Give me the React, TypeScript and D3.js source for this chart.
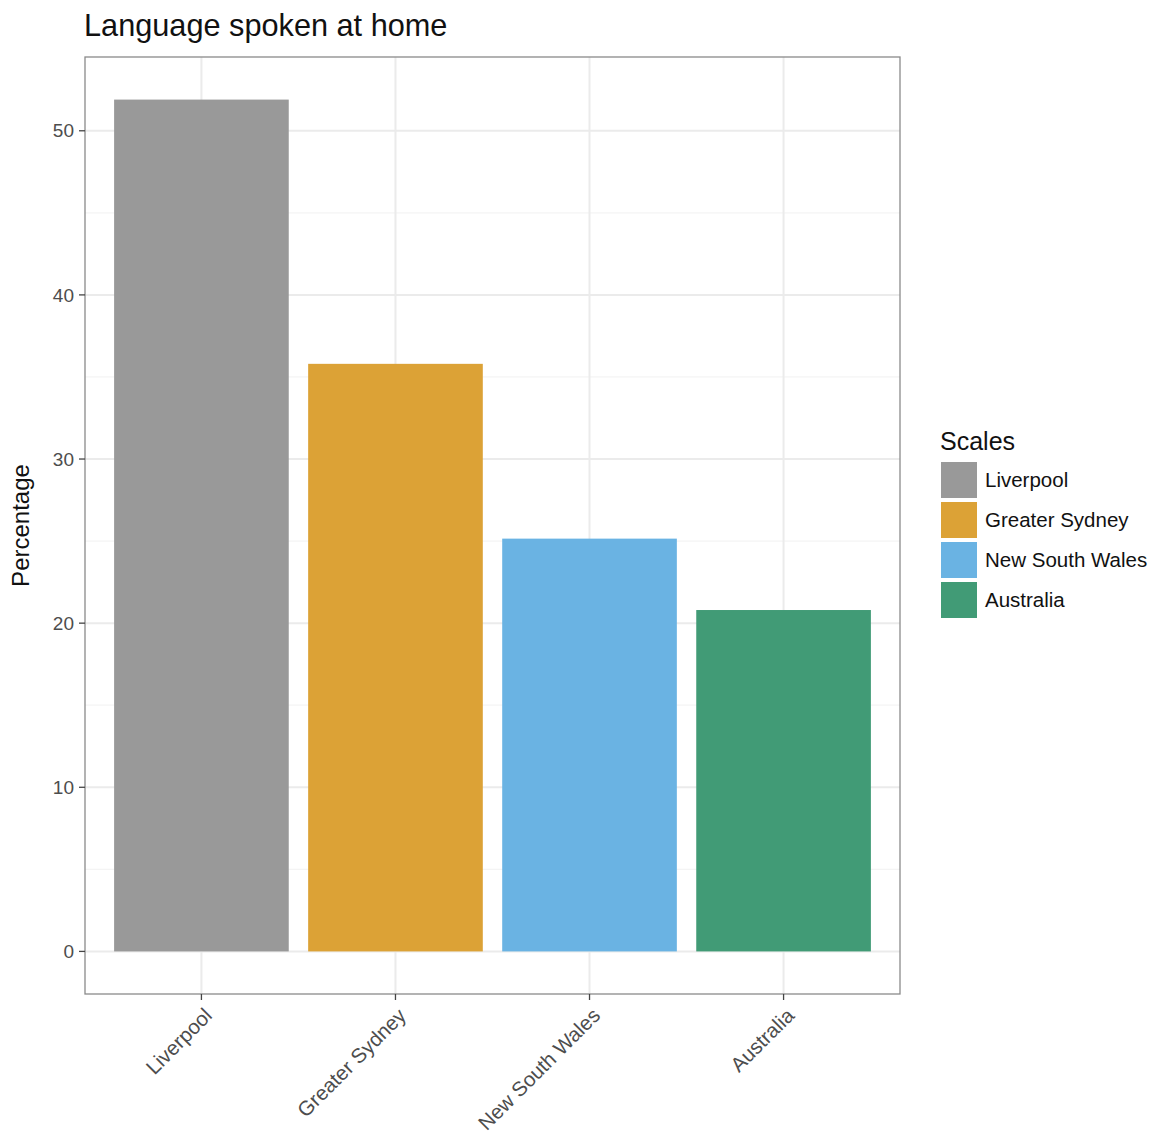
import React from "react";
import * as d3 from "d3";

const categories = ["Liverpool", "Greater Sydney", "New South Wales", "Australia"];
const values = [51.9, 35.8, 25.15, 20.8];
const colors = ["#999999", "#DCA236", "#6AB3E3", "#419B76"];
const yTicks = [0, 10, 20, 30, 40, 50];
const yMinor = [5, 15, 25, 35, 45];

const W = 1155, H = 1133;
const panel = { left: 85, right: 900, top: 57, bottom: 994 };
const FONT = "Liberation Sans, Arial, Helvetica, sans-serif";

export default function App() {
  const maxV = d3.max(values) as number;
  const y = d3.scaleLinear().domain([-maxV * 0.05, maxV * 1.05]).range([panel.bottom, panel.top]);
  const pw = panel.right - panel.left;
  const unit = pw / (categories.length + 0.2);
  const x = d3.scaleBand().domain(categories)
    .range([panel.left + unit * 0.1, panel.right - unit * 0.1])
    .paddingInner(0.1).paddingOuter(0.05);
  const cx = (c: string) => (x(c) as number) + x.bandwidth() / 2;

  return (
    <svg width={W} height={H} style={{ position: "absolute", left: 0, top: 0, background: "#fff" }} fontFamily={FONT}>
      <text x={84} y={36} fontSize={30.7} fill="#111">Language spoken at home</text>
      <rect x={panel.left} y={panel.top} width={pw} height={panel.bottom - panel.top} fill="#fff" />
      {yMinor.map(t => (
        <line key={"m" + t} x1={panel.left} x2={panel.right} y1={y(t)} y2={y(t)} stroke="#f4f4f4" strokeWidth={1.2} />
      ))}
      {yTicks.map(t => (
        <line key={"g" + t} x1={panel.left} x2={panel.right} y1={y(t)} y2={y(t)} stroke="#ebebeb" strokeWidth={2} />
      ))}
      {categories.map(c => (
        <line key={"gx" + c} x1={cx(c)} x2={cx(c)} y1={panel.top} y2={panel.bottom} stroke="#ebebeb" strokeWidth={2} />
      ))}
      {categories.map((c, i) => (
        <rect key={"b" + c} x={x(c)} y={y(values[i])} width={x.bandwidth()} height={y(0) - y(values[i])} fill={colors[i]} />
      ))}
      <rect x={panel.left} y={panel.top} width={pw} height={panel.bottom - panel.top} fill="none" stroke="#8a8a8a" strokeWidth={1.3} />
      {yTicks.map(t => (
        <g key={"yt" + t}>
          <line x1={panel.left - 6} x2={panel.left} y1={y(t)} y2={y(t)} stroke="#444" strokeWidth={1.3} />
          <text x={panel.left - 11} y={y(t)} dy="0.35em" textAnchor="end" fontSize={19} fill="#4d4d4d">{t}</text>
        </g>
      ))}
      {categories.map(c => (
        <g key={"xt" + c}>
          <line x1={cx(c)} x2={cx(c)} y1={panel.bottom} y2={panel.bottom + 6} stroke="#444" strokeWidth={1.3} />
          <text transform={`translate(${cx(c) + 1},${panel.bottom + 12}) rotate(-45)`} dy="0.75em" textAnchor="end" fontSize={20.5} fill="#4d4d4d">{c}</text>
        </g>
      ))}
      <text transform={`translate(29,${(panel.top + panel.bottom) / 2}) rotate(-90)`} textAnchor="middle" fontSize={24} fill="#111">Percentage</text>
      <text x={940} y={450} fontSize={25} fill="#111">Scales</text>
      {categories.map((c, i) => (
        <g key={"l" + c}>
          <rect x={941} y={462 + i * 40} width={36} height={36} fill={colors[i]} />
          <text x={985} y={480 + i * 40} dy="0.35em" fontSize={20.5} fill="#111">{c}</text>
        </g>
      ))}
    </svg>
  );
}
